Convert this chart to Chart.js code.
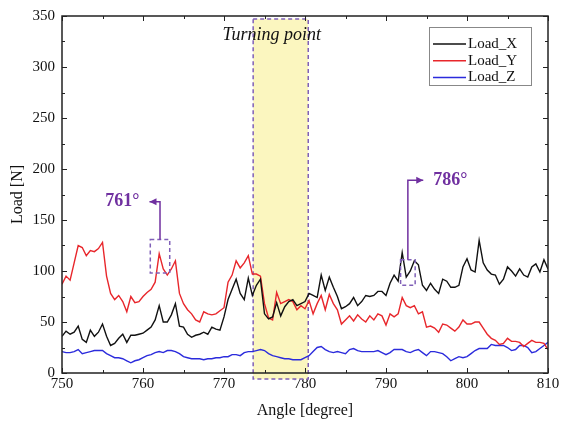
<!DOCTYPE html>
<html>
<head>
<meta charset="utf-8">
<script src="https://cdn.jsdelivr.net/npm/chart.js@4.4.0/dist/chart.umd.min.js"></script>
<style>
  html, body { margin: 0; padding: 0; background: #fff; }
</style>
</head>
<body>
<canvas id="chart" width="570" height="429"></canvas>
<script>
// angle in degrees, one reading every half degree
const angles = [
  750, 750.5, 751, 751.5, 752, 752.5, 753, 753.5, 754, 754.5,
  755, 755.5, 756, 756.5, 757, 757.5, 758, 758.5, 759, 759.5,
  760, 760.5, 761, 761.5, 762, 762.5, 763, 763.5, 764, 764.5,
  765, 765.5, 766, 766.5, 767, 767.5, 768, 768.5, 769, 769.5,
  770, 770.5, 771, 771.5, 772, 772.5, 773, 773.5, 774, 774.5,
  775, 775.5, 776, 776.5, 777, 777.5, 778, 778.5, 779, 779.5,
  780, 780.5, 781, 781.5, 782, 782.5, 783, 783.5, 784, 784.5,
  785, 785.5, 786, 786.5, 787, 787.5, 788, 788.5, 789, 789.5,
  790, 790.5, 791, 791.5, 792, 792.5, 793, 793.5, 794, 794.5,
  795, 795.5, 796, 796.5, 797, 797.5, 798, 798.5, 799, 799.5,
  800, 800.5, 801, 801.5, 802, 802.5, 803, 803.5, 804, 804.5,
  805, 805.5, 806, 806.5, 807, 807.5, 808, 808.5, 809, 809.5,
  810
]

const loadX = [
  36, 41, 38, 40, 46, 33, 30, 42, 36, 40,
  48, 36, 27, 29, 34, 38, 30, 37, 37, 38,
  39, 42, 45, 52, 66, 50, 50, 57, 68, 46,
  45, 38, 35, 37, 38, 40, 38, 45, 43, 42,
  55, 72, 82, 92, 78, 72, 93, 76, 86, 92,
  58, 53, 55, 69, 56, 65, 70, 72, 66, 68,
  70, 78, 76, 74, 96, 81, 94, 84, 75, 63,
  65, 68, 74, 66, 70, 76, 75, 76, 80, 80,
  76, 88, 96, 90, 118, 94, 100, 110, 106, 86,
  81, 88, 82, 78, 92, 90, 84, 84, 86, 104,
  112, 101, 99, 130, 108, 101, 97, 96, 87, 92,
  104, 100, 95, 102, 96, 94, 104, 107, 99, 111,
  102
]

const loadY = [
  87, 95, 91, 108, 125, 123, 115, 120, 119, 122,
  128, 95, 78, 72, 76, 70, 60, 75, 69, 70,
  75, 79, 82, 89, 117, 102, 96, 102, 110, 78,
  68, 62, 58, 52, 50, 60, 58, 57, 58, 61,
  64, 89, 96, 110, 103, 108, 115, 97, 97, 95,
  68, 54, 52, 79, 68, 70, 72, 70, 62, 66,
  63, 71, 58, 68, 76, 62, 77, 68, 62, 48,
  52, 56, 51, 57, 53, 50, 56, 52, 58, 56,
  47, 58, 55, 58, 74, 66, 64, 66, 58, 60,
  45, 46, 44, 40, 48, 47, 44, 41, 45, 52,
  48, 48, 50, 50, 44, 38, 34, 32, 28, 29,
  34, 31, 31, 30, 26, 29, 32, 30, 30, 29,
  23
]

const loadZ = [
  21, 20, 20, 21, 23, 19, 20, 21, 22, 22,
  22, 19, 17, 15, 15, 14, 12, 10, 12, 13,
  15, 17, 18, 20, 21, 20, 22, 22, 21, 19,
  16, 15, 14, 14, 14, 13, 14, 14, 15, 15,
  16, 16, 18, 18, 17, 20, 21, 21, 22, 23,
  22, 19, 17, 16, 15, 14, 14, 13, 13, 13,
  15, 17, 21, 25, 26, 23, 21, 20, 21, 20,
  19, 23, 24, 22, 21, 21, 21, 21, 22, 20,
  18, 20, 23, 23, 23, 21, 20, 22, 23, 20,
  17, 21, 21, 20, 19, 16, 12, 14, 16, 15,
  16, 19, 22, 24, 24, 24, 28, 27, 27, 27,
  25, 22, 23, 27, 27, 25, 20, 21, 24, 27,
  30
]

const seriesNames = ["Load_X", "Load_Y", "Load_Z"]
const seriesColors = ["#111111", "#e8262b", "#2b2bdc"]

// shaded band and call-outs, in data units
const turningBand = { from: 773.6, to: 780.4, top: 347, bottom: -6, label: "Turning point", labelAt: [775.9, 331] }
const callouts = [
  { label: "761°", box: [760.9, 763.3, 98, 131], stem: 762.1, elbow: 168, tip: 760.8, side: "left" },
  { label: "786°", box: [791.8, 793.6, 86, 111], stem: 792.7, elbow: 189, tip: 794.6, side: "right" }
]

const serif = "'Liberation Serif', 'Times New Roman', serif"
const purple = "#7030a0"

const bandPlugin = {
  id: "band",
  beforeDatasetsDraw(chart) {
    const { ctx, scales: { x, y } } = chart
    const x0 = x.getPixelForValue(turningBand.from)
    const x1 = x.getPixelForValue(turningBand.to)
    const y0 = y.getPixelForValue(turningBand.top)
    const y1 = y.getPixelForValue(turningBand.bottom)
    ctx.save()
    ctx.fillStyle = "#fbf6bf"
    ctx.fillRect(x0, y0, x1 - x0, y1 - y0)
    ctx.setLineDash([4, 3])
    ctx.strokeStyle = "#8060b8"
    ctx.lineWidth = 1.5
    ctx.strokeRect(x0, y0, x1 - x0, y1 - y0)
    ctx.setLineDash([])
    ctx.fillStyle = "#111"
    ctx.font = "italic 18px " + serif
    ctx.textAlign = "center"
    ctx.textBaseline = "middle"
    ctx.fillText(turningBand.label, x.getPixelForValue(turningBand.labelAt[0]), y.getPixelForValue(turningBand.labelAt[1]))
    ctx.restore()
  }
}

// frame with inward ticks on all four sides, legend and call-outs
const framePlugin = {
  id: "frame",
  afterDatasetsDraw(chart) {
    const { ctx, chartArea: a, scales: { x, y } } = chart
    ctx.save()

    // call-outs
    callouts.forEach(c => {
      const bx0 = x.getPixelForValue(c.box[0]), bx1 = x.getPixelForValue(c.box[1])
      const by0 = y.getPixelForValue(c.box[3]), by1 = y.getPixelForValue(c.box[2])
      ctx.setLineDash([4, 3])
      ctx.strokeStyle = "#8060b8"
      ctx.lineWidth = 1.5
      ctx.strokeRect(bx0, by0, bx1 - bx0, by1 - by0)
      ctx.setLineDash([])
      const sx = x.getPixelForValue(c.stem)
      const ey = y.getPixelForValue(c.elbow)
      const tx = x.getPixelForValue(c.tip)
      ctx.strokeStyle = purple
      ctx.beginPath()
      ctx.moveTo(sx, by0)
      ctx.lineTo(sx, ey)
      ctx.lineTo(tx, ey)
      ctx.stroke()
      const dir = c.side === "left" ? 1 : -1
      ctx.fillStyle = purple
      ctx.beginPath()
      ctx.moveTo(tx, ey)
      ctx.lineTo(tx + dir * 7, ey - 3.5)
      ctx.lineTo(tx + dir * 7, ey + 3.5)
      ctx.closePath()
      ctx.fill()
      ctx.font = "bold 18px " + serif
      ctx.textBaseline = "middle"
      if (c.side === "left") {
        ctx.textAlign = "right"
        ctx.fillText(c.label, tx - 10, ey)
      } else {
        ctx.textAlign = "left"
        ctx.fillText(c.label, tx + 10, ey)
      }
    })

    // frame
    ctx.strokeStyle = "#222"
    ctx.lineWidth = 1.5
    ctx.strokeRect(a.left, a.top, a.right - a.left, a.bottom - a.top)

    ctx.lineWidth = 1
    ctx.beginPath()
    for (let v = 750; v <= 810; v += 5) {
      const px = Math.round(x.getPixelForValue(v)) + 0.5
      const len = v % 10 === 0 ? 5 : 3
      ctx.moveTo(px, a.bottom); ctx.lineTo(px, a.bottom - len)
      ctx.moveTo(px, a.top); ctx.lineTo(px, a.top + len)
    }
    for (let v = 0; v <= 350; v += 25) {
      const py = Math.round(y.getPixelForValue(v)) + 0.5
      const len = v % 50 === 0 ? 5 : 3
      ctx.moveTo(a.left, py); ctx.lineTo(a.left + len, py)
      ctx.moveTo(a.right, py); ctx.lineTo(a.right - len, py)
    }
    ctx.stroke()

    // legend
    const lx = 429, ly = 27, lw = 102, lh = 58
    ctx.fillStyle = "#fff"
    ctx.fillRect(lx, ly, lw, lh)
    ctx.strokeStyle = "#888"
    ctx.lineWidth = 1
    ctx.strokeRect(lx + 0.5, ly + 0.5, lw, lh)
    ctx.font = "15px " + serif
    ctx.textAlign = "left"
    ctx.textBaseline = "middle"
    chart.data.datasets.forEach((ds, i) => {
      const yy = ly + 17 + i * 16.7
      ctx.strokeStyle = ds.borderColor
      ctx.lineWidth = 1.5
      ctx.beginPath()
      ctx.moveTo(lx + 4, yy)
      ctx.lineTo(lx + 37, yy)
      ctx.stroke()
      ctx.fillStyle = "#111"
      ctx.fillText(ds.label, lx + 39, yy)
    })
    ctx.restore()
  }
}

new Chart(document.getElementById("chart"), {
  type: "line",
  data: {
    labels: angles,
    datasets: [loadX, loadY, loadZ].map((vals, i) => ({
      label: seriesNames[i],
      data: vals.map((v, j) => ({ x: angles[j], y: v })),
      borderColor: seriesColors[i],
      borderWidth: 1.4,
      pointRadius: 0,
      tension: 0,
      fill: false
    }))
  },
  options: {
    responsive: false,
    devicePixelRatio: 1,
    animation: false,
    layout: { padding: { top: 13, right: 22, left: 0, bottom: 0 } },
    plugins: {
      legend: { display: false },
      tooltip: { enabled: false }
    },
    scales: {
      x: {
        type: "linear",
        min: 750,
        max: 810,
        afterFit: s => { s.height = 56 },
        grid: { display: false, drawTicks: false },
        border: { display: false },
        ticks: { stepSize: 10, padding: 2, color: "#111", font: { family: serif, size: 15 } },
        title: { display: true, text: "Angle [degree]", color: "#111", font: { family: serif, size: 16 }, padding: { top: 0, bottom: 9 } }
      },
      y: {
        min: 0,
        max: 350,
        afterFit: s => { s.width = 62 },
        grid: { display: false, drawTicks: false },
        border: { display: false },
        ticks: { stepSize: 50, padding: 7, color: "#111", font: { family: serif, size: 15 } },
        title: { display: true, text: "Load [N]", color: "#111", font: { family: serif, size: 16 }, padding: { top: 8, bottom: 0 } }
      }
    }
  },
  plugins: [bandPlugin, framePlugin]
})
</script>
</body>
</html>
